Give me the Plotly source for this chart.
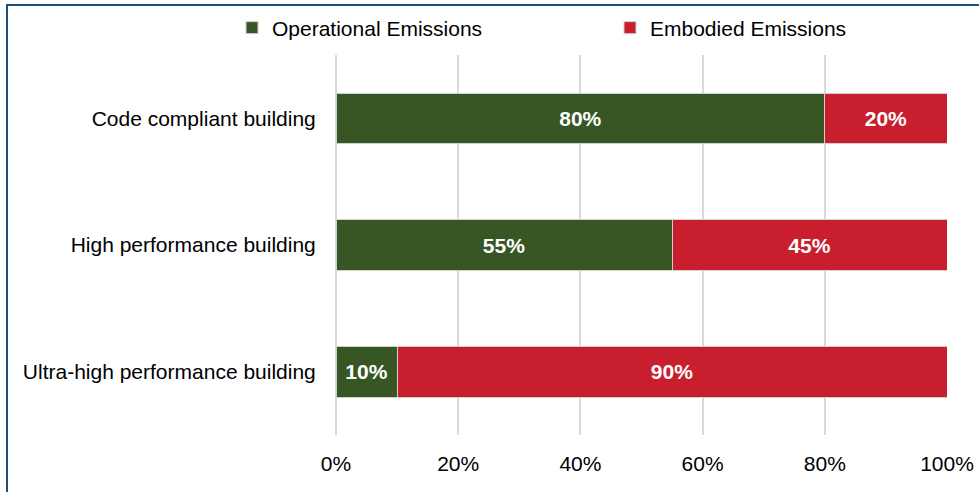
import plotly.graph_objects as go

categories = ["Code compliant building", "High performance building", "Ultra-high performance building"]
operational = [80, 55, 10]
embodied = [20, 45, 90]
series_names = ["Operational Emissions", "Embodied Emissions"]
colors = ["#375623", "#C81E2E"]
tick_vals = [0, 20, 40, 60, 80, 100]
tick_text = ["0%", "20%", "40%", "60%", "80%", "100%"]

FONT = "Liberation Sans, Arial, sans-serif"
FS = 21

fig = go.Figure()
for name, vals, col in zip(series_names, [operational, embodied], colors):
    fig.add_trace(go.Bar(
        y=categories, x=vals, name=name, orientation="h",
        marker=dict(color=col, line=dict(color="#d0d0d0", width=1)),
        text=[f"{v}%" for v in vals], textposition="inside",
        insidetextanchor="middle",
        textfont=dict(family=FONT, size=FS, color="white", weight="bold"),
    ))

W, H = 979, 492
ml, mr, mt, mb = 336, 32, 55, 57
pw = W - ml - mr
ph = H - mt - mb

def px2x(px):
    return (px - ml) / pw

def py2y(py):
    return (H - mb - py) / ph

fig.update_layout(
    width=W, height=H,
    margin=dict(l=ml, r=mr, t=mt, b=mb, autoexpand=False),
    barmode="stack", bargap=0.6,
    plot_bgcolor="white", paper_bgcolor="white",
    font=dict(family=FONT, size=FS, color="#000000"),
    showlegend=True,
    legend=dict(orientation="h", traceorder="normal",
                x=px2x(232), xanchor="left", y=py2y(28), yanchor="middle",
                entrywidth=333, entrywidthmode="pixels", itemwidth=30,
                font=dict(family=FONT, size=FS), bgcolor="rgba(0,0,0,0)"),
    uniformtext=dict(minsize=10, mode="show"),
    shapes=[dict(type="rect", xref="paper", yref="paper",
                 x0=px2x(7), x1=px2x(W + 20), y0=py2y(H + 20), y1=py2y(5),
                 line=dict(color="#1F4E79", width=2), fillcolor="rgba(0,0,0,0)", layer="above")],
)
fig.update_xaxes(range=[0, 100], tickvals=tick_vals, ticktext=tick_text, automargin=False,
                 showgrid=True, gridcolor="#d9d9d9", gridwidth=1.5,
                 zeroline=True, zerolinecolor="#d9d9d9", zerolinewidth=1.5,
                 showline=False, ticks="outside", ticklen=10, tickcolor="rgba(0,0,0,0)",
                 tickfont=dict(family=FONT, size=FS))
fig.update_yaxes(categoryorder="array", categoryarray=categories, autorange="reversed",
                 automargin=False,
                 showgrid=False, showline=False, ticks="outside", ticklen=15,
                 tickcolor="rgba(0,0,0,0)", tickfont=dict(family=FONT, size=FS))

fig.write_html("out.html")
